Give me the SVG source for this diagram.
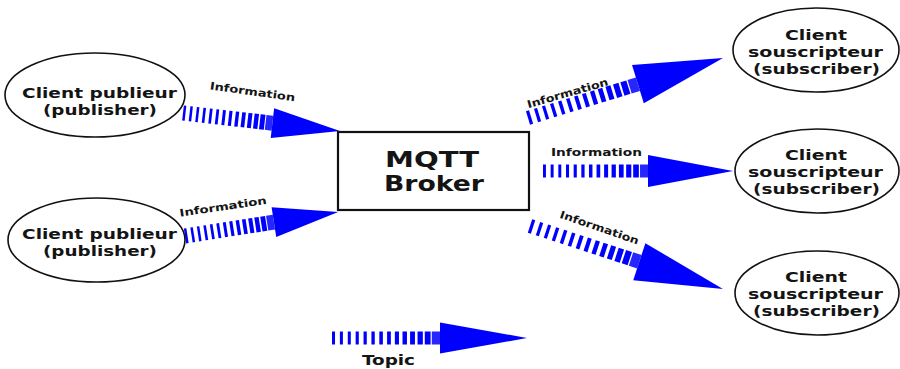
<svg xmlns="http://www.w3.org/2000/svg" xmlns:xlink="http://www.w3.org/1999/xlink" width="900" height="369" viewBox="0 0 900 369">
<style>
.node ellipse{fill:#fff;stroke:#111;stroke-width:1.6}
.box{fill:#fff;stroke:#111;stroke-width:2.2}
.t{font-family:"DejaVu Sans",Verdana,sans-serif;font-weight:bold;fill:#141414;text-anchor:middle}
.n{font-size:14px}
.b{font-size:21px}
.l{font-size:10.5px}
.blue{fill:#0000ff}
</style>
<defs>
<g id="stripes" class="blue">
<rect x="0" y="-1" width="2.8" height="2"/>
<rect x="7.3" y="-1" width="2.8" height="2"/>
<rect x="14.6" y="-1" width="2.8" height="2"/>
<rect x="21.9" y="-1" width="2.9" height="2"/>
<rect x="29.2" y="-1" width="3.0" height="2"/>
<rect x="36.5" y="-1" width="3.1" height="2"/>
<rect x="43.8" y="-1" width="3.3" height="2"/>
<rect x="51.0" y="-1" width="3.5" height="2"/>
<rect x="58.2" y="-1" width="3.8" height="2"/>
<rect x="65.3" y="-1" width="4.1" height="2"/>
<rect x="72.3" y="-1" width="4.5" height="2"/>
<rect x="79.2" y="-1" width="4.9" height="2"/>
<rect x="85.9" y="-1" width="5.4" height="2"/>
<rect x="92.4" y="-1" width="7.6" height="2" opacity="0.85"/>
</g>
</defs>
<rect x="0" y="0" width="900" height="369" fill="#fff"/>

<g id="connectors">
<g id="arrow-pub1" transform="translate(183,113) rotate(6.5)">
<use xlink:href="#stripes" href="#stripes" transform="scale(0.9,7.5)"/>
<polygon class="blue" points="90,-15 158,0 90,15"/>
</g>
<g id="arrow-pub2" transform="translate(185,236) rotate(-8.9)">
<use xlink:href="#stripes" href="#stripes" transform="scale(0.9,7.5)"/>
<polygon class="blue" points="90,-15 155,0 90,15"/>
</g>
<g id="arrow-sub1" transform="translate(528,118) rotate(-17.1)">
<use xlink:href="#stripes" href="#stripes" transform="scale(1.15,7)"/>
<polygon class="blue" points="115,-20 204,0 115,20"/>
</g>
<g id="arrow-sub2" transform="translate(543,171)">
<use xlink:href="#stripes" href="#stripes" transform="scale(1.05,6.5)"/>
<polygon class="blue" points="105,-16 190,0 105,16"/>
</g>
<g id="arrow-sub3" transform="translate(530,226) rotate(18.1)">
<use xlink:href="#stripes" href="#stripes" transform="scale(1.15,7)"/>
<polygon class="blue" points="115,-19.5 203,0 115,19.5"/>
</g>
<g transform="translate(252.5,91.5) rotate(8)"><text class="t l" x="0" y="3.8" textLength="86" lengthAdjust="spacingAndGlyphs">Information</text></g>
<g transform="translate(223,206.5) rotate(-8.4)"><text class="t l" x="0" y="3.8" textLength="88" lengthAdjust="spacingAndGlyphs">Information</text></g>
<g transform="translate(567.5,93) rotate(-16)"><text class="t l" x="0" y="3.8" textLength="84" lengthAdjust="spacingAndGlyphs">Information</text></g>
<text class="t l" x="596.5" y="156" textLength="91" lengthAdjust="spacingAndGlyphs">Information</text>
<g transform="translate(599.5,227.5) rotate(19)"><text class="t l" x="0" y="3.8" textLength="83" lengthAdjust="spacingAndGlyphs">Information</text></g>
</g>

<g id="pub1" class="node">
<ellipse cx="95" cy="95" rx="90" ry="42"/>
<text class="t n" x="99.5" y="98" textLength="155" lengthAdjust="spacingAndGlyphs">Client publieur</text>
<text class="t n" x="100" y="115" textLength="114" lengthAdjust="spacingAndGlyphs">(publisher)</text>
</g>
<g id="pub2" class="node">
<ellipse cx="96.5" cy="240" rx="88.5" ry="42"/>
<text class="t n" x="99.5" y="238.5" textLength="155" lengthAdjust="spacingAndGlyphs">Client publieur</text>
<text class="t n" x="100" y="255.5" textLength="114" lengthAdjust="spacingAndGlyphs">(publisher)</text>
</g>
<g id="broker">
<rect class="box" x="338" y="132" width="191" height="78"/>
<text class="t b" x="432" y="166.5" textLength="94" lengthAdjust="spacingAndGlyphs">MQTT</text>
<text class="t b" x="434" y="190.5" textLength="100" lengthAdjust="spacingAndGlyphs">Broker</text>
</g>
<g id="sub1" class="node">
<ellipse cx="816" cy="50" rx="83" ry="42"/>
<text class="t n" x="816" y="40" textLength="62" lengthAdjust="spacingAndGlyphs">Client</text>
<text class="t n" x="815.5" y="57" textLength="135" lengthAdjust="spacingAndGlyphs">souscripteur</text>
<text class="t n" x="816.5" y="74" textLength="127" lengthAdjust="spacingAndGlyphs">(subscriber)</text>
</g>
<g id="sub2" class="node">
<ellipse cx="817" cy="171" rx="82" ry="42"/>
<text class="t n" x="816" y="160" textLength="62" lengthAdjust="spacingAndGlyphs">Client</text>
<text class="t n" x="815.5" y="177" textLength="135" lengthAdjust="spacingAndGlyphs">souscripteur</text>
<text class="t n" x="816.5" y="194" textLength="127" lengthAdjust="spacingAndGlyphs">(subscriber)</text>
</g>
<g id="sub3" class="node">
<ellipse cx="817" cy="293" rx="82" ry="42"/>
<text class="t n" x="816" y="282" textLength="62" lengthAdjust="spacingAndGlyphs">Client</text>
<text class="t n" x="815.5" y="299" textLength="135" lengthAdjust="spacingAndGlyphs">souscripteur</text>
<text class="t n" x="816.5" y="316" textLength="127" lengthAdjust="spacingAndGlyphs">(subscriber)</text>
</g>
<g id="legend">
<g transform="translate(332,338)">
<use xlink:href="#stripes" href="#stripes" transform="scale(1.08,6.5)"/>
<polygon class="blue" points="108,-15.5 195,0 108,15.5"/>
</g>
<text class="t n" x="388.5" y="365" textLength="53" lengthAdjust="spacingAndGlyphs">Topic</text>
</g>
</svg>
